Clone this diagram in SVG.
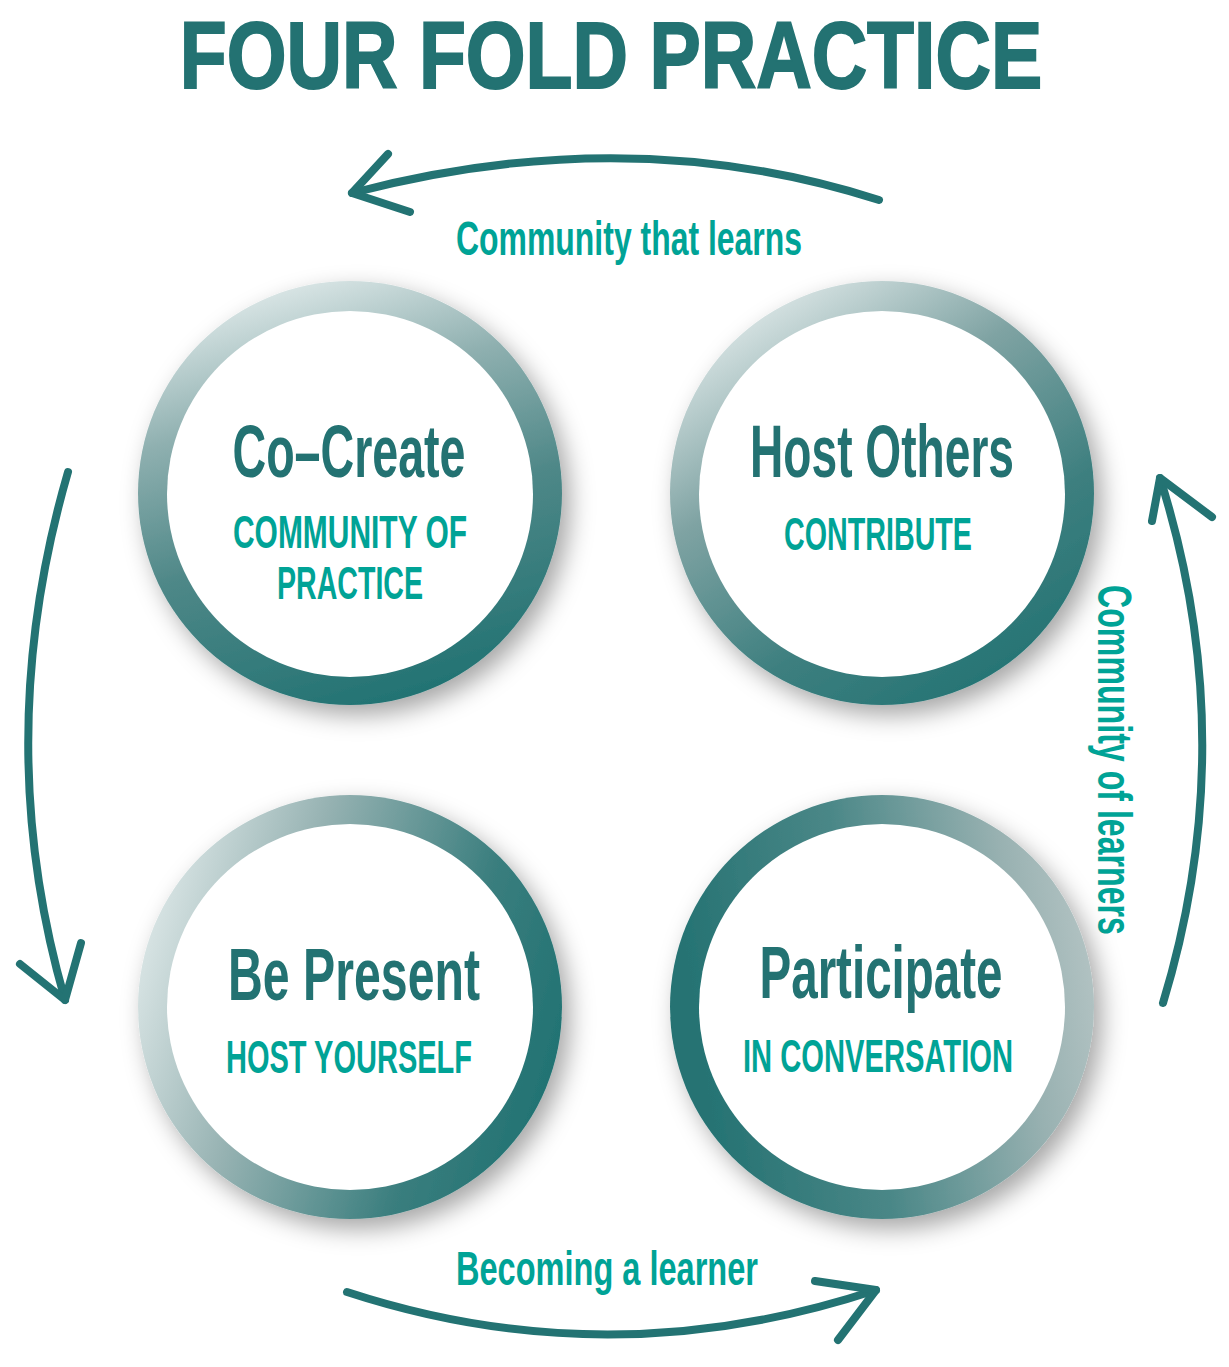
<svg xmlns="http://www.w3.org/2000/svg" width="1229" height="1367" viewBox="0 0 1229 1367">
<defs>
<style>
.t{font-family:"Liberation Sans",Arial,sans-serif;font-weight:bold;text-anchor:middle}
.main{fill:#237272;font-size:74px}
.sub{fill:#00a396;font-size:46px}
.lbl{fill:#00a396;font-size:48px}
.arc{fill:none;stroke:#237373;stroke-width:8;stroke-linecap:round;stroke-linejoin:round}
.inner{fill:#ffffff}
</style>
<filter id="sh" x="-20%" y="-20%" width="145%" height="145%">
<feGaussianBlur in="SourceAlpha" stdDeviation="12"/>
<feOffset dx="8" dy="10" result="b"/>
<feFlood flood-color="#000" flood-opacity="0.35"/>
<feComposite in2="b" operator="in"/>
<feMerge><feMergeNode/><feMergeNode in="SourceGraphic"/></feMerge>
</filter>
<linearGradient id="g1" x1="0.25" y1="0" x2="0.55" y2="1">
<stop offset="0" stop-color="#e4eded"/>
<stop offset="0.3" stop-color="#8fb0b0"/>
<stop offset="0.6" stop-color="#4f8888"/>
<stop offset="1" stop-color="#237373"/>
</linearGradient>
<linearGradient id="g2" x1="0.15" y1="0.05" x2="0.75" y2="1">
<stop offset="0" stop-color="#e2ebeb"/>
<stop offset="0.35" stop-color="#7fa3a3"/>
<stop offset="0.7" stop-color="#3d7f7f"/>
<stop offset="1" stop-color="#237373"/>
</linearGradient>
<linearGradient id="g3" x1="0" y1="0.25" x2="1" y2="0.55">
<stop offset="0" stop-color="#e0eaea"/>
<stop offset="0.35" stop-color="#96b2b2"/>
<stop offset="0.75" stop-color="#3a7e7e"/>
<stop offset="1" stop-color="#237373"/>
</linearGradient>
<linearGradient id="g4" x1="0.05" y1="0.45" x2="1" y2="0.3">
<stop offset="0" stop-color="#267373"/>
<stop offset="0.4" stop-color="#4a8787"/>
<stop offset="0.8" stop-color="#98b1b1"/>
<stop offset="1" stop-color="#b4c4c4"/>
</linearGradient>
</defs>
<rect width="1229" height="1367" fill="#ffffff"/>
<text class="t" transform="translate(611,88) scale(0.809,1)" x="0" y="0" font-size="95" fill="#237272" stroke="#237272" stroke-width="2">FOUR FOLD PRACTICE</text>

<g id="connectors">
<g id="arrow-top">
<path class="arc" d="M879,200 Q630,120 352,193"/>
<path class="arc" d="M388,154 L352,193 L410,212"/>
</g>
<g id="arrow-left">
<path class="arc" d="M68,472 Q-10,740 65,1000"/>
<path class="arc" d="M20,964 L65,1000 L81,943"/>
</g>
<g id="arrow-bottom">
<path class="arc" d="M347,1292 Q610,1378 876,1290"/>
<path class="arc" d="M815,1281 L876,1290 L838,1340"/>
</g>
<g id="arrow-right">
<path class="arc" d="M1163,1003 Q1243,740 1160,478"/>
<path class="arc" d="M1152,521 L1160,478 L1212,517"/>
</g>
</g>

<text class="t lbl" x="629" y="255" textLength="346" lengthAdjust="spacingAndGlyphs">Community that learns</text>
<text class="t lbl" x="607" y="1285" textLength="302" lengthAdjust="spacingAndGlyphs">Becoming a learner</text>
<text class="t lbl" transform="translate(1098,760) rotate(90)" x="0" y="0" textLength="350" lengthAdjust="spacingAndGlyphs">Community of learners</text>

<g id="node-cocreate">
<circle cx="350" cy="493" r="212" fill="url(#g1)" filter="url(#sh)"/>
<circle class="inner" cx="350" cy="494" r="183"/>
<text class="t main" x="349" y="477" textLength="233" lengthAdjust="spacingAndGlyphs">Co–Create</text>
<text class="t sub" x="350" y="548" textLength="234" lengthAdjust="spacingAndGlyphs">COMMUNITY OF</text>
<text class="t sub" x="350" y="599" textLength="146" lengthAdjust="spacingAndGlyphs">PRACTICE</text>
</g>

<g id="node-hostothers">
<circle cx="882" cy="493" r="212" fill="url(#g2)" filter="url(#sh)"/>
<circle class="inner" cx="882" cy="494" r="183"/>
<text class="t main" x="882" y="477" textLength="264" lengthAdjust="spacingAndGlyphs">Host Others</text>
<text class="t sub" x="878" y="550" textLength="188" lengthAdjust="spacingAndGlyphs">CONTRIBUTE</text>
</g>

<g id="node-bepresent">
<circle cx="350" cy="1007" r="212" fill="url(#g3)" filter="url(#sh)"/>
<circle class="inner" cx="350" cy="1007" r="183"/>
<text class="t main" x="354" y="1000" textLength="252" lengthAdjust="spacingAndGlyphs">Be Present</text>
<text class="t sub" x="349" y="1073" textLength="246" lengthAdjust="spacingAndGlyphs">HOST YOURSELF</text>
</g>

<g id="node-participate">
<circle cx="882" cy="1007" r="212" fill="url(#g4)" filter="url(#sh)"/>
<circle class="inner" cx="882" cy="1007" r="183"/>
<text class="t main" x="881" y="998" textLength="243" lengthAdjust="spacingAndGlyphs">Participate</text>
<text class="t sub" x="878" y="1072" textLength="270" lengthAdjust="spacingAndGlyphs">IN CONVERSATION</text>
</g>
</svg>
